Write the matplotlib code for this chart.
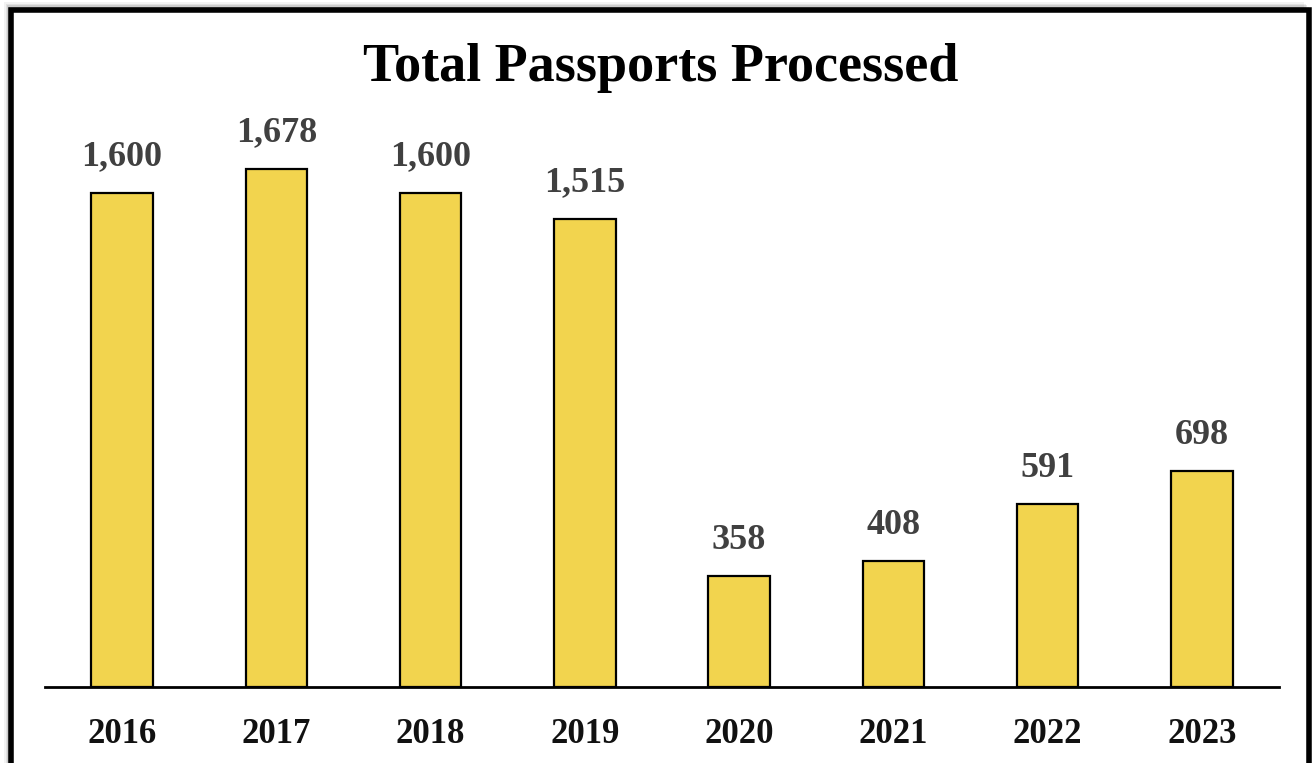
import matplotlib.pyplot as plt
from matplotlib.patches import Rectangle

# data
years = ["2016", "2017", "2018", "2019", "2020", "2021", "2022", "2023"]
passports = [1600, 1678, 1600, 1515, 358, 408, 591, 698]

bar_color = "#F2D44E"
label_color = "#404040"

plt.rcParams["font.family"] = ["Liberation Serif", "DejaVu Serif"]

fig = plt.figure(figsize=(13.13, 7.63), dpi=100)
fig.patch.set_facecolor("white")

# soft shadow + black frame (bottom edge runs off the image)
for k, a in enumerate([0.05, 0.07, 0.09, 0.12]):
    off = (4 - k) * 1.5
    fig.add_artist(Rectangle(((10 - off) / 1313, -0.1), 1300 / 1313, (755 + 76) / 763 + off / 763,
                             transform=fig.transFigure, facecolor="black", alpha=a,
                             edgecolor="none", zorder=0))
fig.add_artist(Rectangle((11 / 1313, -0.1), 1298 / 1313, (753 + 76) / 763,
                         transform=fig.transFigure, facecolor="white", edgecolor="black",
                         linewidth=4, zorder=1))

ax = fig.add_axes([45 / 1313, 76 / 763, 1234 / 1313, 587 / 763])
ax.set_zorder(2)
ax.patch.set_visible(False)

x = range(len(years))
bars = ax.bar(x, passports, width=0.40, color=bar_color, edgecolor="black", linewidth=1.6)

for b, v in zip(bars, passports):
    ax.annotate(f"{v:,}", (b.get_x() + b.get_width() / 2, v), xytext=(0, 14),
                textcoords="offset points", ha="center", va="bottom",
                fontsize=26, fontweight="bold", color=label_color)

ax.set_xlim(-0.5, len(years) - 0.5)
ax.set_ylim(0, 1900)
ax.set_xticks(list(x))
ax.set_xticklabels(years, fontsize=25, fontweight="bold", color="#111111")
ax.tick_params(axis="x", length=0, pad=22)
ax.set_yticks([])
for s in ["top", "right", "left"]:
    ax.spines[s].set_visible(False)
ax.spines["bottom"].set_linewidth(2)

fig.text(661 / 1313, 1 - 68 / 763, "Total Passports Processed", ha="center", va="center",
         fontsize=39, fontweight="bold", color="black", zorder=3)

fig.savefig("out.png", dpi=100)
